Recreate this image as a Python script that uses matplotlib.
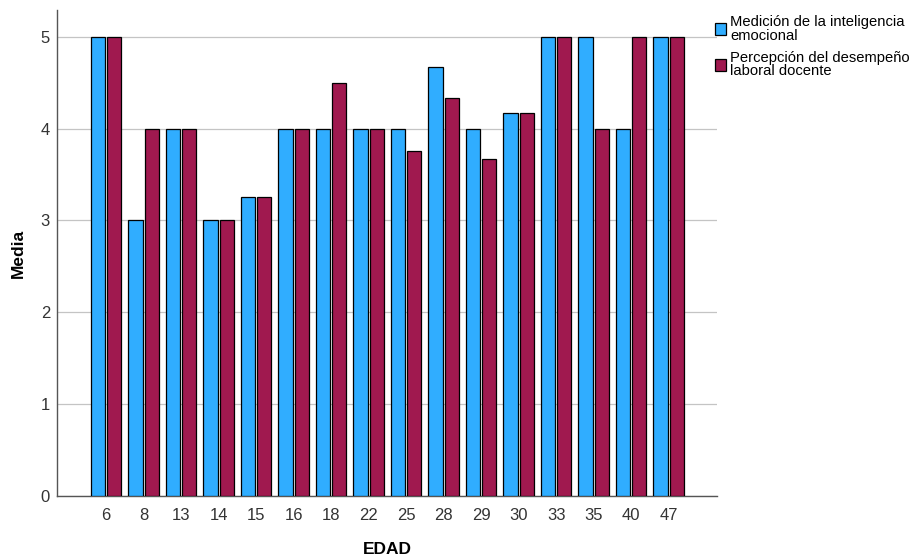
import matplotlib
matplotlib.use("Agg")
import matplotlib.pyplot as plt
from matplotlib.patches import Patch
import numpy as np

plt.rcParams['font.family'] = ['Liberation Sans', 'DejaVu Sans']

edades = ["6", "8", "13", "14", "15", "16", "18", "22", "25", "28", "29", "30", "33", "35", "40", "47"]
inteligencia = [5, 3, 4, 3, 3.25, 4, 4, 4, 4, 4.67, 4, 4.17, 5, 5, 4, 5]
desempeno = [5, 4, 4, 3, 3.25, 4, 4.5, 4, 3.75, 4.33, 3.67, 4.17, 5, 4, 5, 5]
series_names = ["Medición de la inteligencia\nemocional", "Percepción del desempeño\nlaboral docente"]
colors = ["#30ADFF", "#A0194F"]

fig = plt.figure(figsize=(9.16, 5.58), dpi=100)
ax = fig.add_axes([57/916, 62/558, (717-57)/916, (496-10)/558])

x = np.arange(len(edades))
w = 0.38
off = 0.215
ax.bar(x - off, inteligencia, width=w, color=colors[0], edgecolor="black", linewidth=0.9, zorder=3)
ax.bar(x + off, desempeno, width=w, color=colors[1], edgecolor="black", linewidth=0.9, zorder=3)

ax.set_xlim(-1.31, 16.29)
ax.set_ylim(0, 5.29)
ax.set_yticks([0, 1, 2, 3, 4, 5])
ax.set_xticks(x)
ax.set_xticklabels(edades)
ax.tick_params(axis='both', length=0, labelsize=12, colors="#333333")
ax.tick_params(axis='x', pad=9)
ax.tick_params(axis='y', pad=5)
ax.yaxis.grid(True, color="#c4c4c4", linewidth=0.9, zorder=0)
ax.set_axisbelow(True)
for s in ["top", "right"]:
    ax.spines[s].set_visible(False)
for s in ["left", "bottom"]:
    ax.spines[s].set_color("#555555")
    ax.spines[s].set_linewidth(1.0)

ax.set_ylabel("Media", fontsize=12.5, fontweight="bold", va="center")
ax.yaxis.set_label_coords((18 - 57) / 660, 0.5)
ax.set_xlabel("EDAD", fontsize=12.5, fontweight="bold", va="center")
ax.xaxis.set_label_coords(0.5, -(550 - 496) / 486)

handles = [Patch(facecolor=c, edgecolor="black", linewidth=0.9) for c in colors]
leg = fig.legend(handles, series_names, loc="upper left", bbox_to_anchor=(715/916, 1 - 15/558),
                 frameon=False, fontsize=10.6, handlelength=0.75, handleheight=0.9,
                 handletextpad=0.3, labelspacing=0.55, borderaxespad=0, borderpad=0)
for t in leg.get_texts():
    t.set_linespacing(0.97)

fig.savefig("out.png", dpi=100)
